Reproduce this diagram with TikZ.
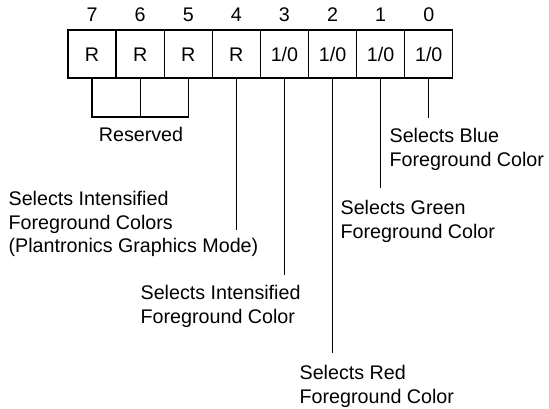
\documentclass[tikz,border=0pt]{standalone}
\usepackage{fontspec}
\setmainfont{Liberation Sans}
\begin{document}
\begin{tikzpicture}[x=1pt,y=-1pt,line width=1.3pt,
  every node/.style={font=\fontsize{19.7}{23.5}\selectfont},
  bitbox/.style={draw,line width=1.3pt,minimum width=48.1pt,minimum height=48pt,inner sep=0pt,text height=14pt,text depth=0pt},
  bitnum/.style={inner sep=0pt,text height=14pt,text depth=0pt},
  desc/.style={anchor=north west,align=left,inner sep=0pt},
  lead/.style={line width=1.3pt}]
\useasboundingbox (0,0) rectangle (549,408);
% boxes
\foreach \k/\b/\t in {0/7/R,1/6/R,2/5/R,3/4/R,4/3/1\slash 0,5/2/1\slash 0,6/1/1\slash 0,7/0/1\slash 0}{
  \node[bitbox] (r\b) at ({68+48.1*(\k+0.5)},54) {\t};
  \node[bitnum] (n\b) at ({68+48.1*(\k+0.5)},14.5) {\b};
}
% reserved bracket
\coordinate (resv) at (0,117);
\draw[lead] (r7.south) -- (r7.south |- resv) -- (r5.south |- resv) -- (r5.south);
\draw[lead] (r6.south) -- (r6.south |- resv);
\node[bitnum] (reserved) at (141,134) {Reserved};
% descriptions
\node[desc] (t4) at (8,191) {Selects Intensified\\Foreground Colors\\(Plantronics Graphics Mode)};
\node[desc] (t3) at (140,285) {Selects Intensified\\Foreground Color};
\node[desc] (t2) at (299,365) {Selects Red\\Foreground Color};
\node[desc] (t1) at (340,200) {Selects Green\\Foreground Color};
\node[desc] (t0) at (389,128) {Selects Blue\\Foreground Color};
% leader lines
\coordinate (y4) at (0,230);
\coordinate (y3) at (0,275);
\coordinate (y2) at (0,353);
\coordinate (y1) at (0,188);
\coordinate (y0) at (0,118);
\foreach \b in {4,3,2,1,0}{\draw[lead] (r\b.south) -- (r\b.south |- y\b);}
\end{tikzpicture}
\end{document}
